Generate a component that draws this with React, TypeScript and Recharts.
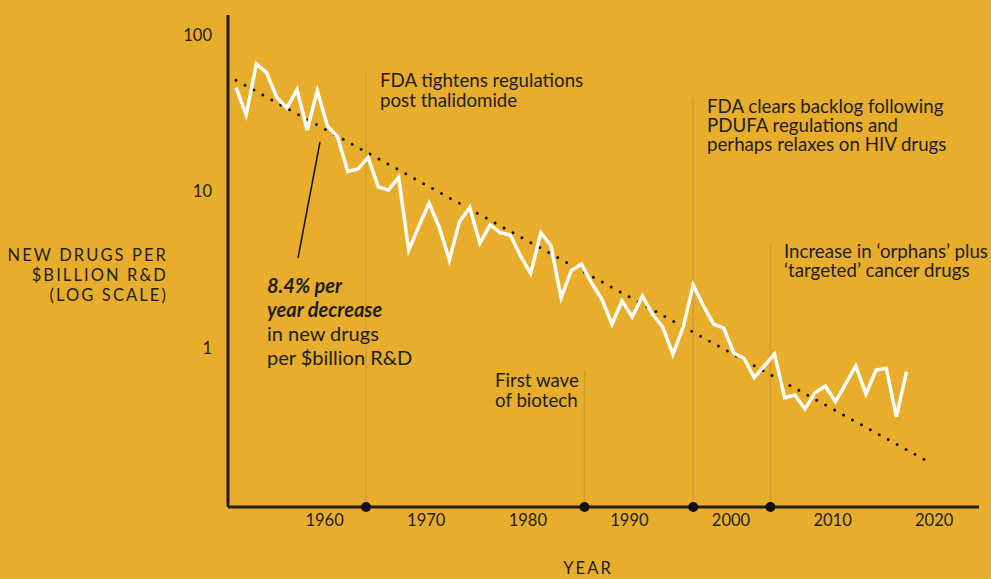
import React from 'react';
import { LineChart, Line, XAxis, YAxis, ReferenceLine, ReferenceDot } from 'recharts';

// New drugs approved per $billion of R&D spending (inflation-adjusted), by year
const years: number[] = [
  1950, 1951, 1952, 1953, 1954, 1955, 1956, 1957, 1958, 1959,
  1960, 1961, 1962, 1963, 1964, 1965, 1966, 1967, 1968, 1969,
  1970, 1971, 1972, 1973, 1974, 1975, 1976, 1977, 1978, 1979,
  1980, 1981, 1982, 1983, 1984, 1985, 1986, 1987, 1988, 1989,
  1990, 1991, 1992, 1993, 1994, 1995, 1996, 1997, 1998, 1999,
  2000, 2001, 2002, 2003, 2004, 2005, 2006, 2007, 2008, 2009,
  2010, 2011, 2012, 2013, 2014, 2015, 2016,
];
const drugsPerBillion: number[] = [
  46.0, 30.8, 65.3, 57.4, 40.0, 34.2, 44.6, 24.7, 43.9, 26.2,
  22.3, 13.4, 13.9, 16.5, 10.7, 10.2, 12.3, 4.22, 6.0, 8.41,
  5.91, 3.65, 6.41, 7.93, 4.67, 6.11, 5.45, 5.27, 3.88, 3.0,
  5.45, 4.5, 2.1, 3.12, 3.44, 2.6, 2.05, 1.42, 2.0, 1.58,
  2.15, 1.64, 1.36, 0.911, 1.35, 2.53, 1.86, 1.42, 1.34, 0.925,
  0.86, 0.646, 0.767, 0.916, 0.481, 0.501, 0.408, 0.518, 0.572, 0.454,
  0.589, 0.767, 0.508, 0.723, 0.742, 0.364, 0.706,
];

// Exponential trend (straight on the log axis)
const trendYears: number[] = [1950, 2018];
const trendValues: number[] = [51.3, 0.19];

// Regulatory / industry events marked on the time axis
const eventYears: number[] = [1962.8, 1984.3, 1995.0, 2002.6];
const eventLineTops: number[] = [58.3, 0.723, 39.6, 4.67];

const xTicks: number[] = [1960, 1970, 1980, 1990, 2000, 2010, 2020];
const yTicks: number[] = [1, 10, 100];

const X_DOMAIN: [number, number] = [1949.21, 2023.13];
const Y_DOMAIN: [number, number] = [0.0964, 134];

const BG = '#E7AD2B';
const INK = '#1E1E1E';
const EVENT_LINE = '#CF9C2E';
const FONT = 'Lato, "Noto Sans", sans-serif';

const series = years.map((year, i) => ({ year, value: drugsPerBillion[i] }));
const trend = trendYears.map((year, i) => ({ year, value: trendValues[i] }));

const XTick = (props: any) => {
  const { x, y, payload } = props;
  return (
    <text x={x - 13} y={y} dy={17} textAnchor="middle" fill={INK} fontSize={16.5} fontFamily={FONT}>
      {payload.value}
    </text>
  );
};

const note: React.CSSProperties = {
  position: 'absolute',
  fontFamily: FONT,
  fontSize: 18.7,
  color: INK,
  whiteSpace: 'nowrap',
};

export default function App() {
  return (
    <div style={{ position: 'relative', width: 991, height: 579, background: BG, overflow: 'hidden' }}>
      <style>{`body{margin:0}`}</style>
      <LineChart
        width={991}
        height={579}
        margin={{ top: 15, right: 12, bottom: 42, left: 0 }}
        style={{ position: 'absolute', left: 0, top: 0 }}
      >
        <XAxis
          dataKey="year"
          type="number"
          domain={X_DOMAIN}
          ticks={xTicks}
          allowDataOverflow
          height={30}
          tickLine={false}
          tickSize={0}
          axisLine={{ stroke: INK, strokeWidth: 3 }}
          tick={<XTick />}
        />
        <YAxis
          dataKey="value"
          scale="log"
          domain={Y_DOMAIN}
          ticks={yTicks}
          allowDataOverflow
          width={228}
          tickLine={false}
          tickSize={0}
          tickMargin={16}
          axisLine={{ stroke: INK, strokeWidth: 3 }}
          tick={{ fill: INK, fontSize: 16.5, fontFamily: FONT }}
        />
        {eventYears.map((yr, i) => (
          <ReferenceLine
            key={`ev-${yr}`}
            segment={[{ x: yr, y: eventLineTops[i] }, { x: yr, y: Y_DOMAIN[0] }]}
            stroke={EVENT_LINE}
            strokeWidth={1.5}
            ifOverflow="visible"
          />
        ))}
        <Line
          data={trend}
          dataKey="value"
          stroke="#111"
          strokeWidth={3}
          strokeLinecap="round"
          strokeDasharray="0 10.2"
          dot={false}
          activeDot={false}
          isAnimationActive={false}
        />
        <Line
          data={series}
          dataKey="value"
          stroke="#FFFFFF"
          strokeWidth={3.5}
          dot={false}
          activeDot={false}
          isAnimationActive={false}
        />
        {eventYears.map((yr) => (
          <ReferenceDot key={`dot-${yr}`} x={yr} y={Y_DOMAIN[0]} r={5} fill="#111" stroke="none" ifOverflow="visible" />
        ))}
      </LineChart>

      {/* axis titles */}
      <div style={{ ...note, left: 0, top: 245, width: 168, textAlign: 'right', fontSize: 16.5, lineHeight: '20px', letterSpacing: 2.1 }}>
        NEW DRUGS PER<br />$BILLION R&amp;D<br />(LOG SCALE)
      </div>
      <div style={{ ...note, left: 538, width: 100, textAlign: 'center', top: 558, fontSize: 16.5, lineHeight: '20px', letterSpacing: 2.1 }}>
        YEAR
      </div>

      {/* event notes */}
      <div style={{ ...note, left: 380, top: 70, lineHeight: '20px' }}>
        FDA tightens regulations<br />post thalidomide
      </div>
      <div style={{ ...note, left: 495, top: 370, lineHeight: '20px' }}>
        First wave<br />of biotech
      </div>
      <div style={{ ...note, left: 707, top: 97, lineHeight: '19.2px' }}>
        FDA clears backlog following<br />PDUFA regulations and<br />perhaps relaxes on HIV drugs
      </div>
      <div style={{ ...note, left: 784, top: 242, lineHeight: '19px' }}>
        Increase in ‘orphans’ plus<br />‘targeted’ cancer drugs
      </div>

      {/* trend note with pointer */}
      <svg width={991} height={579} style={{ position: 'absolute', left: 0, top: 0, pointerEvents: 'none' }}>
        <line x1={320} y1={142} x2={298} y2={258} stroke="#111" strokeWidth={1.5} />
      </svg>
      <div style={{ ...note, left: 267, top: 273, fontSize: 20, lineHeight: '24px' }}>
        <span style={{ fontWeight: 700, fontStyle: 'italic' }}>8.4% per<br />year decrease</span>
        <br />in new drugs<br />per $billion R&amp;D
      </div>
    </div>
  );
}
